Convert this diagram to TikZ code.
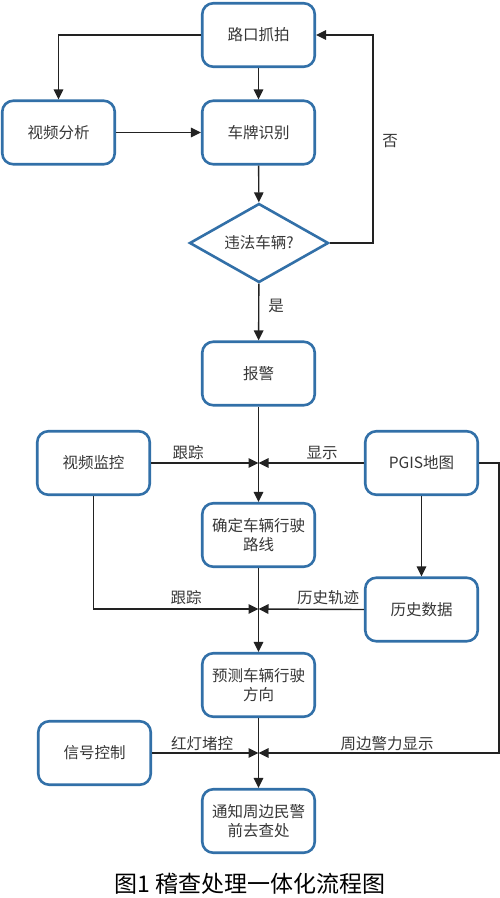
\documentclass[tikz,border=0pt]{standalone}
\usepackage{fontspec}
\setmainfont{Noto Sans CJK SC}
\usetikzlibrary{arrows.meta,shapes.geometric}
\definecolor{ink}{RGB}{34,34,34}
\definecolor{frame}{RGB}{50,112,168}
\definecolor{txt}{RGB}{55,55,55}
\tikzset{
  proc/.style={draw=frame,line width=2.6pt,rounded corners=11pt,fill=white,
    minimum width=112.5pt,minimum height=63.5pt,inner sep=2pt,align=center,
    text=txt,font=\fontsize{15.5}{19}\selectfont},
  decide/.style={diamond,draw=frame,line width=2.6pt,fill=white,aspect=1.8,
    inner sep=0pt,minimum width=139pt,minimum height=79pt,text=txt,
    font=\fontsize{15.5}{19}\selectfont},
  arr/.style={draw=ink,line width=1.4pt,-{Triangle[length=10pt,width=9.5pt]}},
  lbl/.style={text=txt,inner sep=1pt,font=\fontsize{15.5}{19}\selectfont},
}
\begin{document}
\begin{tikzpicture}[x=1pt,y=-1pt]
\useasboundingbox (0,0) rectangle (500,898);
% nodes
\node[proc] (capture) at (258.5,35) {路口抓拍};
\node[proc] (analysis) at (58.5,132.5) {视频分析};
\node[proc] (plate) at (258.5,132.5) {车牌识别};
\node[decide] (viol) at (259,243) {违法车辆?};
\node[proc] (alarm) at (258.5,373.5) {报警};
\node[proc] (monitor) at (93.5,463) {视频监控};
\node[proc] (pgis) at (421.5,463) {PGIS地图};
\node[proc] (route) at (258.5,535) {确定车辆行驶\\路线};
\node[proc] (history) at (421.5,609.5) {历史数据};
\node[proc] (predict) at (258.5,685) {预测车辆行驶\\方向};
\node[proc] (signal) at (94.5,753) {信号控制};
\node[proc] (notify) at (258.5,821) {通知周边民警\\前去查处};
\coordinate (j1) at (258.5,463);
\coordinate (j2) at (258.5,609);
\coordinate (j3) at (258.5,753);
\coordinate (nobend) at (373,35);
\coordinate (rbend) at (499,463);
% connectors
\draw[arr] (capture.west) -| (analysis.north);
\draw[arr] (capture) -- (plate);
\draw[arr] (analysis) -- (plate);
\draw[arr] (plate) -- (viol);
\draw[arr] (viol.east) -| (nobend) -- (capture.east);
\draw[arr] (viol) -- (alarm);
\draw[arr] (alarm) -- (route);
\draw[arr] (monitor.east) -- (j1);
\draw[arr] (pgis.west) -- (j1);
\draw[arr] (pgis) -- (history);
\draw[arr] (route) -- (predict);
\draw[arr] (monitor.south) |- (j2);
\draw[arr] (history.west) -- (j2);
\draw[arr] (predict) -- (notify);
\draw[arr] (signal.east) -- (j3);
\draw[arr] (pgis.east) -- (rbend) |- (j3);
% labels
\node[lbl] (no) at (390,141) {否};
\node[lbl] (yes) at (276,306) {是};
\node[lbl] (track1) at (188,453) {跟踪};
\node[lbl] (show) at (322,453) {显示};
\node[lbl] (track2) at (186,598) {跟踪};
\node[lbl] (trace) at (328,598) {历史轨迹};
\node[lbl] (light) at (202,744) {红灯堵控};
\node[lbl] (police) at (387,744) {周边警力显示};
\node[font=\fontsize{23}{26}\selectfont] (caption) at (250,884) {图1 稽查处理一体化流程图};
\end{tikzpicture}
\end{document}
